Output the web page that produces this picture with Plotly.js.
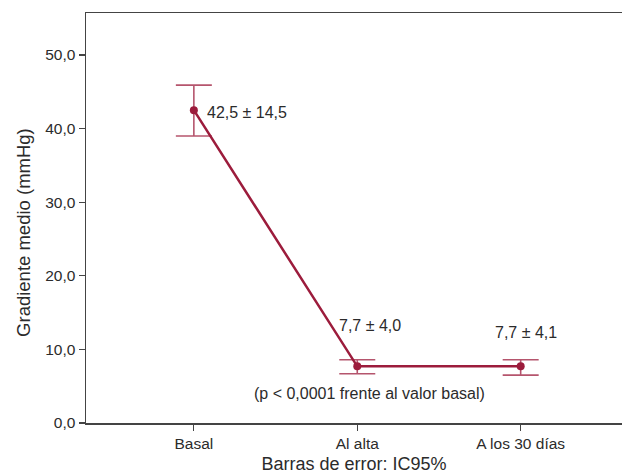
<!DOCTYPE html>
<html>
<head>
<meta charset="utf-8">
<script src="https://cdn.plot.ly/plotly-3.0.1.min.js"></script>
<style>html,body{margin:0;padding:0;background:#fff}#chart{width:622px;height:474px}</style>
</head>
<body>
<div id="chart"></div>
<script>
var categories = ["Basal", "Al alta", "A los 30 días"];
var means = [42.5, 7.7, 7.7];
var sds = [14.5, 4.0, 4.1];
var ciUpper = [45.9, 8.6, 8.6];
var ciLower = [39.0, 6.7, 6.5];
var yTickVals = [0, 10, 20, 30, 40, 50];
var yTickText = ["0,0", "10,0", "20,0", "30,0", "40,0", "50,0"];
var yTitle = "Gradiente medio (mmHg)";
var xTitle = "Barras de error: IC95%";
var note = "(p < 0,0001 frente al valor basal)";

function fmt(v){ return v.toFixed(1).replace(".", ","); }

var lineColor = "#9c1c3c";
var errColor = "rgba(156,28,60,0.75)";
var textColor = "#2b2b2b";
var fontFam = "Liberation Sans, Arial, sans-serif";

var trace = {
  type: "scatter",
  mode: "lines+markers",
  x: [0, 1, 2],
  y: means,
  line: {color: lineColor, width: 2.5},
  marker: {color: lineColor, size: 8},
  error_y: {
    type: "data",
    symmetric: false,
    array: ciUpper.map(function(u, i){ return u - means[i]; }),
    arrayminus: ciLower.map(function(l, i){ return means[i] - l; }),
    color: errColor,
    thickness: 1.6,
    width: 18
  },
  hoverinfo: "none"
};

var annXShift = [11, -20, -28];
var annYShift = [-2, 41, 34];
var annotations = means.map(function(m, i){
  return {
    x: i, y: m, xref: "x", yref: "y",
    text: fmt(m) + " ± " + fmt(sds[i]),
    showarrow: false, xanchor: "left", yanchor: "middle",
    xshift: annXShift[i], yshift: annYShift[i],
    font: {family: fontFam, size: 16, color: textColor}
  };
});
annotations.push({
  x: 1, y: means[1], xref: "x", yref: "y",
  text: note, showarrow: false, xanchor: "center", yanchor: "middle",
  yshift: -27, xshift: 12,
  font: {family: fontFam, size: 16, color: textColor}
});
annotations.push({
  x: -0.1157, y: 0.466, xref: "paper", yref: "paper",
  text: yTitle, textangle: -90, showarrow: false,
  xanchor: "center", yanchor: "middle",
  font: {family: fontFam, size: 18.5, color: textColor}
});

var layout = {
  width: 622, height: 474,
  margin: {l: 86, r: 0, t: 13, b: 51},
  paper_bgcolor: "#fff", plot_bgcolor: "#fff",
  showlegend: false,
  font: {family: fontFam, color: textColor},
  xaxis: {
    range: [-0.66, 2.62],
    tickvals: [0, 1, 2], ticktext: categories,
    ticks: "outside", ticklen: 6, tickwidth: 1.2, tickcolor: "#444",
    showline: true, linecolor: "#444", linewidth: 1.5, mirror: true,
    showgrid: false, zeroline: false,
    tickfont: {family: fontFam, size: 15.5, color: textColor},
    title: {text: xTitle, font: {family: fontFam, size: 18, color: textColor}, standoff: 6}
  },
  yaxis: {
    range: [0, 55.7],
    tickvals: yTickVals, ticktext: yTickText,
    ticks: "outside", ticklen: 6, tickwidth: 1.2, tickcolor: "#444",
    showline: true, linecolor: "#444", linewidth: 1.5,
    showgrid: false, zeroline: false,
    tickfont: {family: fontFam, size: 15.5, color: textColor}
  },
  annotations: annotations
};

Plotly.newPlot("chart", [trace], layout, {displayModeBar: false, staticPlot: true});
</script>
</body>
</html>
